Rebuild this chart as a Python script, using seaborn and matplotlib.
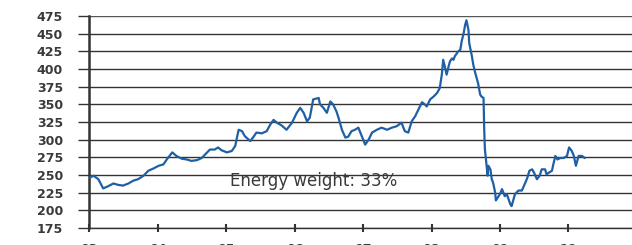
"""
Energy-weighted commodity index, 2003-2010
"""

import pandas as pd
import matplotlib
matplotlib.use('Agg')
import matplotlib.pyplot as plt
from matplotlib.ticker import FixedLocator, MultipleLocator
import seaborn as sns

# decimal year of each reading
years = [2003.00, 2003.06, 2003.13, 2003.20, 2003.27, 2003.35, 2003.42, 2003.49, 2003.57, 2003.64,
         2003.71, 2003.79, 2003.86, 2003.93, 2004.01, 2004.08, 2004.13, 2004.21, 2004.27, 2004.35,
         2004.42, 2004.49, 2004.57, 2004.64, 2004.69, 2004.76, 2004.83, 2004.88, 2004.93, 2005.01,
         2005.08, 2005.13, 2005.18, 2005.23, 2005.27, 2005.35, 2005.39, 2005.44, 2005.52, 2005.59,
         2005.64, 2005.69, 2005.74, 2005.81, 2005.88, 2005.96, 2006.03, 2006.08, 2006.13, 2006.18,
         2006.22, 2006.27, 2006.35, 2006.37, 2006.42, 2006.47, 2006.52, 2006.56, 2006.61, 2006.64,
         2006.69, 2006.74, 2006.78, 2006.83, 2006.88, 2006.93, 2006.98, 2007.03, 2007.08, 2007.13,
         2007.20, 2007.27, 2007.35, 2007.42, 2007.49, 2007.56, 2007.61, 2007.66, 2007.71, 2007.76,
         2007.81, 2007.86, 2007.90, 2007.93, 2007.98, 2008.03, 2008.08, 2008.12, 2008.15, 2008.17,
         2008.20, 2008.22, 2008.25, 2008.27, 2008.30, 2008.32, 2008.34, 2008.39, 2008.42, 2008.44,
         2008.47, 2008.49, 2008.51, 2008.54, 2008.55, 2008.59, 2008.61, 2008.64, 2008.66, 2008.68,
         2008.71, 2008.73, 2008.76, 2008.77, 2008.78, 2008.80, 2008.82, 2008.83, 2008.86, 2008.88,
         2008.90, 2008.93, 2008.94, 2008.98, 2009.00, 2009.03, 2009.05, 2009.07, 2009.10, 2009.15,
         2009.17, 2009.20, 2009.22, 2009.27, 2009.32, 2009.37, 2009.40, 2009.43, 2009.47, 2009.50,
         2009.54, 2009.58, 2009.61, 2009.66, 2009.68, 2009.71, 2009.76, 2009.78, 2009.81, 2009.84,
         2009.88, 2009.93, 2009.98, 2010.01, 2010.05, 2010.08, 2010.11, 2010.15, 2010.20, 2010.24]

index_values = [246, 249, 244, 231, 234, 238, 236, 235, 238, 242,
                244, 249, 256, 259, 263, 265, 272, 282, 277, 273,
                272, 270, 271, 274, 279, 286, 286, 289, 285, 282,
                284, 291, 314, 312, 305, 298, 303, 310, 309, 312,
                321, 328, 324, 320, 314, 324, 338, 345, 338, 326,
                331, 357, 359, 350, 345, 338, 354, 350, 340, 331,
                314, 303, 304, 312, 314, 317, 305, 293, 300, 310,
                314, 317, 314, 317, 319, 324, 312, 310, 326, 333,
                343, 353, 350, 347, 357, 361, 366, 373, 392, 413,
                401, 392, 404, 411, 415, 413, 418, 425, 427, 439,
                451, 462, 469, 455, 437, 418, 406, 394, 387, 380,
                364, 361, 359, 314, 286, 268, 249, 263, 258, 244,
                239, 225, 214, 220, 223, 230, 225, 220, 223, 209,
                206, 216, 223, 228, 228, 239, 246, 256, 258, 253,
                244, 249, 258, 258, 251, 253, 256, 265, 277, 272,
                274, 274, 277, 289, 284, 277, 263, 277, 277, 274]

tick_years = [2003, 2004, 2005, 2006, 2007, 2008, 2009, 2010]
tick_labels = ['03', '04', '05', '06', '07', '08', '09', '10']
annotation = 'Energy weight: 33%'

line_colour = '#1f5fa3'
text_colour = '#3a3a3a'


def main():
    sns.set_style('white')
    plt.rcParams['font.family'] = ['DejaVu Sans']

    data = pd.DataFrame({'year': years, 'index': index_values})

    fig = plt.figure(figsize=(6.32, 2.45), dpi=100)
    ax = fig.add_axes([0.1416, 0.0694, 0.8584, 0.8653])

    # horizontal gridlines every 25
    for v in range(175, 476, 25):
        ax.axhline(v, color='#555555' if v == 475 else '#333333', lw=1.0, zorder=1)

    sns.lineplot(data=data, x='year', y='index', color=line_colour, lw=1.6, ax=ax, zorder=3)

    ax.set_xlim(2003.0, 2010.93)
    ax.set_ylim(175, 475)
    ax.set(xlabel='', ylabel='')

    ax.yaxis.set_major_locator(MultipleLocator(25))
    ax.xaxis.set_major_locator(FixedLocator(tick_years))
    ax.set_xticklabels(tick_labels)

    for side in ['top', 'right']:
        ax.spines[side].set_visible(False)
    ax.spines['left'].set_color('#333333')
    ax.spines['left'].set_linewidth(1.8)
    ax.spines['bottom'].set_color('#333333')
    ax.spines['bottom'].set_linewidth(1.0)

    ax.tick_params(axis='y', which='major', left=True, direction='out', length=8,
                   width=1.0, color='#333333', pad=11, labelsize=9, labelcolor=text_colour)
    ax.tick_params(axis='x', which='major', bottom=True, direction='inout', length=6,
                   width=1.5, color='#333333', pad=8, labelsize=9, labelcolor=text_colour)
    for lab in ax.get_yticklabels() + ax.get_xticklabels():
        lab.set_fontweight('bold')

    ax.text(2006.27, 241, annotation, ha='center', va='center', fontsize=12,
            color=text_colour, zorder=4)

    fig.savefig('out.png', dpi=100)
    plt.close(fig)


if __name__ == '__main__':
    main()
